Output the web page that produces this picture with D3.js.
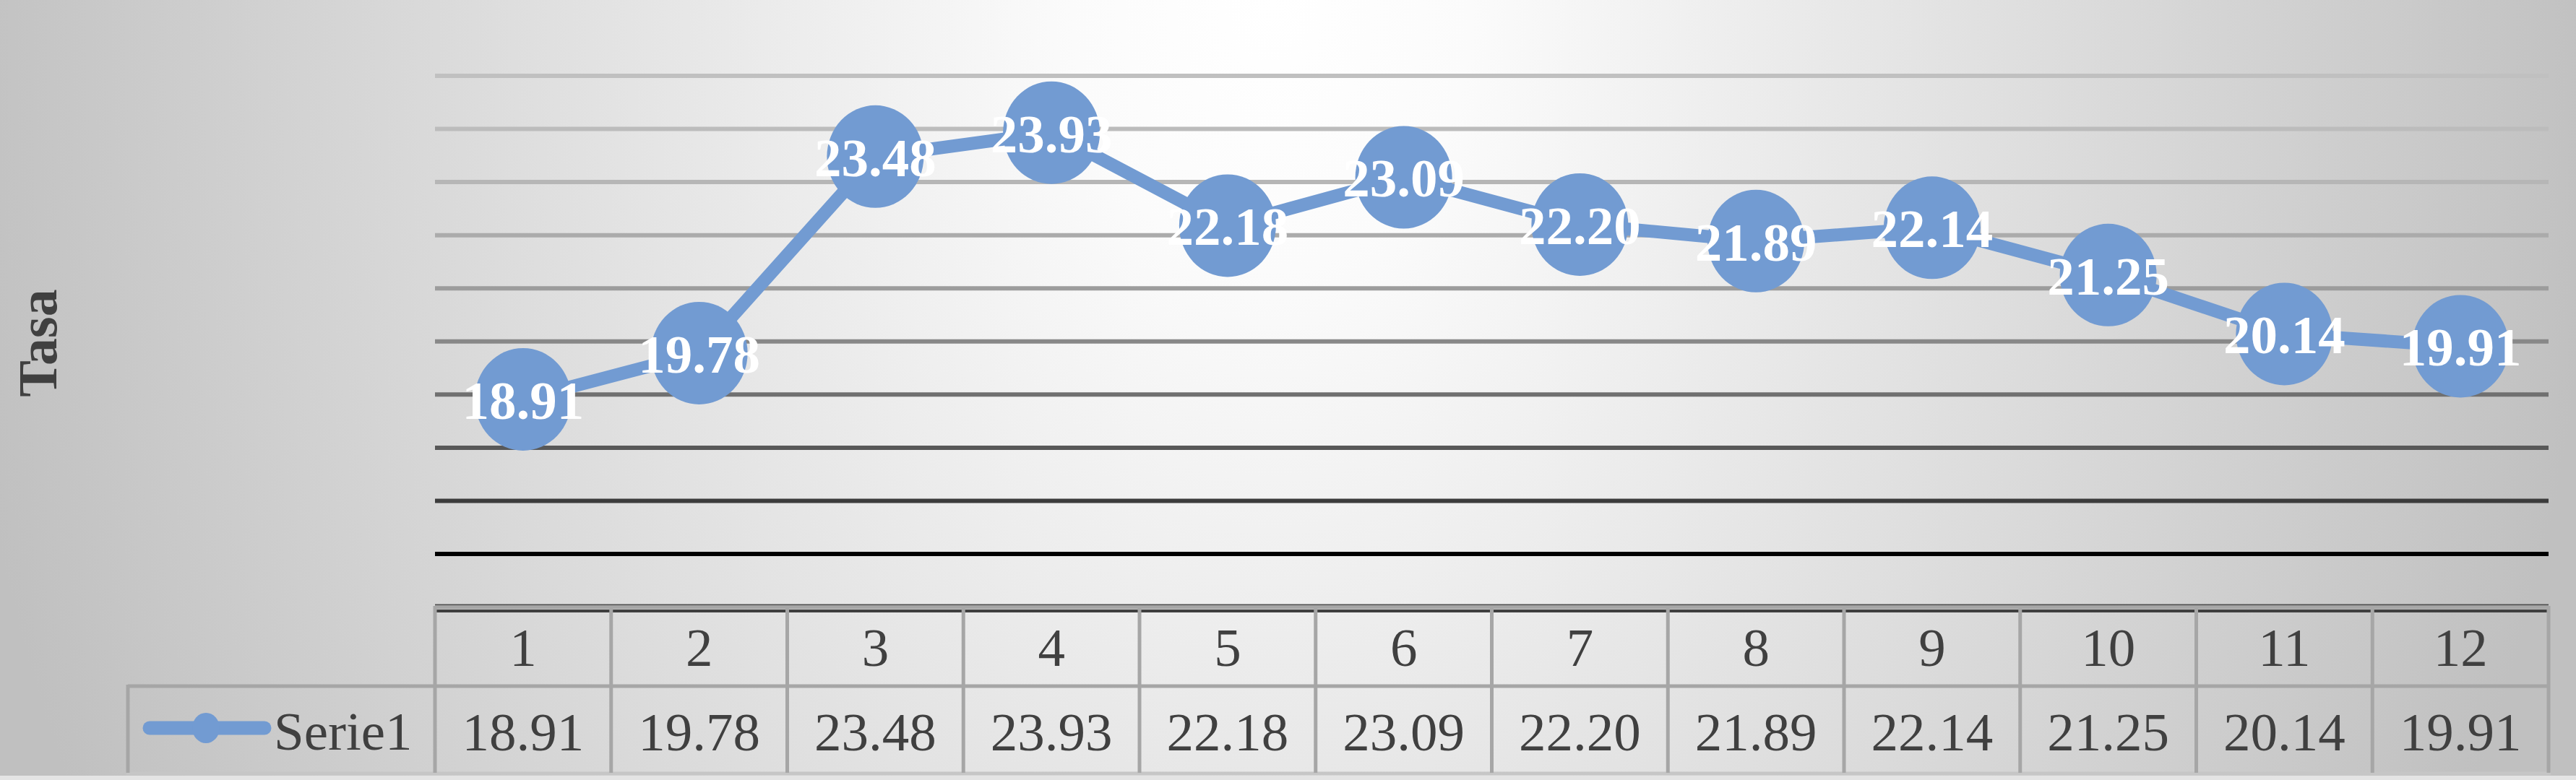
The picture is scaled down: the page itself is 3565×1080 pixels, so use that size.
<!DOCTYPE html>
<html>
<head>
<meta charset="utf-8">
<script src="https://cdn.jsdelivr.net/npm/d3@7/dist/d3.min.js"></script>
<style>
  html, body { margin: 0; padding: 0; background: #ffffff; }
  svg { display: block; }
</style>
</head>
<body>
<div id="chart"></div>
<script>
// ---- data ----
const categories = ["1", "2", "3", "4", "5", "6", "7", "8", "9", "10", "11", "12"];
const seriesName = "Serie1";
const values = [18.91, 19.78, 23.48, 23.93, 22.18, 23.09, 22.20, 21.89, 22.14, 21.25, 20.14, 19.91];
const valueLabels = ["18.91", "19.78", "23.48", "23.93", "22.18", "23.09", "22.20", "21.89", "22.14", "21.25", "20.14", "19.91"];
const yTicks = [16, 17, 18, 19, 20, 21, 22, 23, 24, 25];
const yTitle = "Tasa";

// ---- styles ----
const W = 3565, H = 1080;
const serif = "'Liberation Serif', 'Times New Roman', serif";
const blue = "#729bd2";
const textColor = "#404040";
const gridColors = ["#000000", "#3c3c3c", "#585858", "#707070", "#888888", "#9c9c9c", "#ababab", "#b6b6b6", "#bcbcbc", "#c0c0c0"];

const svg = d3.select("#chart").append("svg").attr("width", W).attr("height", H);

const defs = svg.append("defs");
const bg = defs.append("radialGradient").attr("id", "bg")
  .attr("gradientUnits", "userSpaceOnUse")
  .attr("cx", 1760).attr("cy", 0).attr("r", 1850)
  .attr("gradientTransform", "translate(1760,0) scale(1,1.35) translate(-1760,0)");
bg.append("stop").attr("offset", 0).attr("stop-color", "#ffffff");
bg.append("stop").attr("offset", 0.15).attr("stop-color", "#fbfbfb");
bg.append("stop").attr("offset", 1).attr("stop-color", "#c0c0c0");

svg.append("rect").attr("x", 0).attr("y", 0).attr("width", W).attr("height", H).attr("fill", "url(#bg)");

// ---- scales ----
const x = d3.scaleBand().domain(categories).range([602, 3527]).padding(0);
const y = d3.scaleLinear().domain([16, 25]).range([767, 105]);
const cx = c => x(c) + x.bandwidth() / 2;

// ---- gridlines ----
svg.append("g").selectAll("line").data(yTicks).join("line")
  .attr("x1", x.range()[0]).attr("x2", x.range()[1])
  .attr("y1", d => y(d)).attr("y2", d => y(d))
  .attr("stroke", (d, i) => gridColors[i])
  .attr("stroke-width", 6);

// ---- axis title ----
svg.append("text")
  .attr("transform", "translate(78,475) rotate(-90)")
  .attr("text-anchor", "middle")
  .attr("font-family", serif).attr("font-weight", "bold").attr("font-size", 76)
  .attr("fill", textColor)
  .text(yTitle);

// ---- data table ----
const tbl = svg.append("g");
const xs = x.range();
const rowTop = 841, rowMid = 950, rowBot = 1070;
const legendLeft = 177;

tbl.append("line").attr("x1", xs[0]).attr("x2", xs[1]).attr("y1", 837.5).attr("y2", 837.5)
  .attr("stroke", "#505050").attr("stroke-width", 2);
tbl.append("line").attr("x1", xs[0]).attr("x2", xs[1]).attr("y1", rowTop).attr("y2", rowTop)
  .attr("stroke", "#a6a6a6").attr("stroke-width", 5);
tbl.append("line").attr("x1", xs[0]).attr("x2", xs[1]).attr("y1", 846).attr("y2", 846)
  .attr("stroke", "#3f3f3f").attr("stroke-width", 4);
tbl.append("line").attr("x1", legendLeft).attr("x2", xs[1]).attr("y1", rowMid).attr("y2", rowMid)
  .attr("stroke", "#a6a6a6").attr("stroke-width", 5);
tbl.append("line").attr("x1", legendLeft - 2).attr("x2", xs[1] + 3).attr("y1", rowBot + 1).attr("y2", rowBot + 1)
  .attr("stroke", "#c6c6c6").attr("stroke-width", 5);
const bounds = categories.map(c => x(c)).concat([xs[1]]);
tbl.selectAll("line.v").data(bounds).join("line").attr("class", "v")
  .attr("x1", d => d).attr("x2", d => d).attr("y1", 839).attr("y2", rowBot)
  .attr("stroke", "#a6a6a6").attr("stroke-width", 5);
tbl.append("line").attr("x1", legendLeft).attr("x2", legendLeft).attr("y1", rowMid - 2).attr("y2", rowBot)
  .attr("stroke", "#a6a6a6").attr("stroke-width", 5);

tbl.selectAll("text.h").data(categories).join("text").attr("class", "h")
  .attr("x", d => cx(d)).attr("y", 922)
  .attr("text-anchor", "middle")
  .attr("font-family", serif).attr("font-size", 75).attr("fill", textColor)
  .text(d => d);
tbl.selectAll("text.v").data(categories).join("text").attr("class", "v")
  .attr("x", d => cx(d)).attr("y", 1039)
  .attr("text-anchor", "middle")
  .attr("font-family", serif).attr("font-size", 75).attr("fill", textColor)
  .text((d, i) => valueLabels[i]);

tbl.append("line").attr("x1", 207).attr("x2", 366).attr("y1", 1008).attr("y2", 1008)
  .attr("stroke", blue).attr("stroke-width", 19).attr("stroke-linecap", "round");
tbl.append("ellipse").attr("cx", 285).attr("cy", 1008).attr("rx", 19).attr("ry", 21).attr("fill", blue);
tbl.append("text").attr("x", 379).attr("y", 1038)
  .attr("font-family", serif).attr("font-size", 75).attr("fill", textColor)
  .text(seriesName);

svg.append("rect").attr("x", 0).attr("y", 1074).attr("width", W).attr("height", 6).attr("fill", "#e4e4e4");

// ---- series ----
const pts = categories.map((c, i) => ({ c, v: values[i], label: valueLabels[i] }));
const line = d3.line().x(d => cx(d.c)).y(d => y(d.v));
svg.append("path").datum(pts)
  .attr("d", line)
  .attr("fill", "none").attr("stroke", blue).attr("stroke-width", 18)
  .attr("stroke-linejoin", "round");

svg.append("g").selectAll("ellipse").data(pts).join("ellipse")
  .attr("cx", d => cx(d.c)).attr("cy", d => y(d.v))
  .attr("rx", 67).attr("ry", 71)
  .attr("fill", blue);

svg.append("g").selectAll("text").data(pts).join("text")
  .attr("x", d => cx(d.c)).attr("y", d => y(d.v) + 27)
  .attr("text-anchor", "middle")
  .attr("font-family", serif).attr("font-weight", "bold").attr("font-size", 75)
  .attr("fill", "#ffffff")
  .text(d => d.label);
</script>
</body>
</html>
